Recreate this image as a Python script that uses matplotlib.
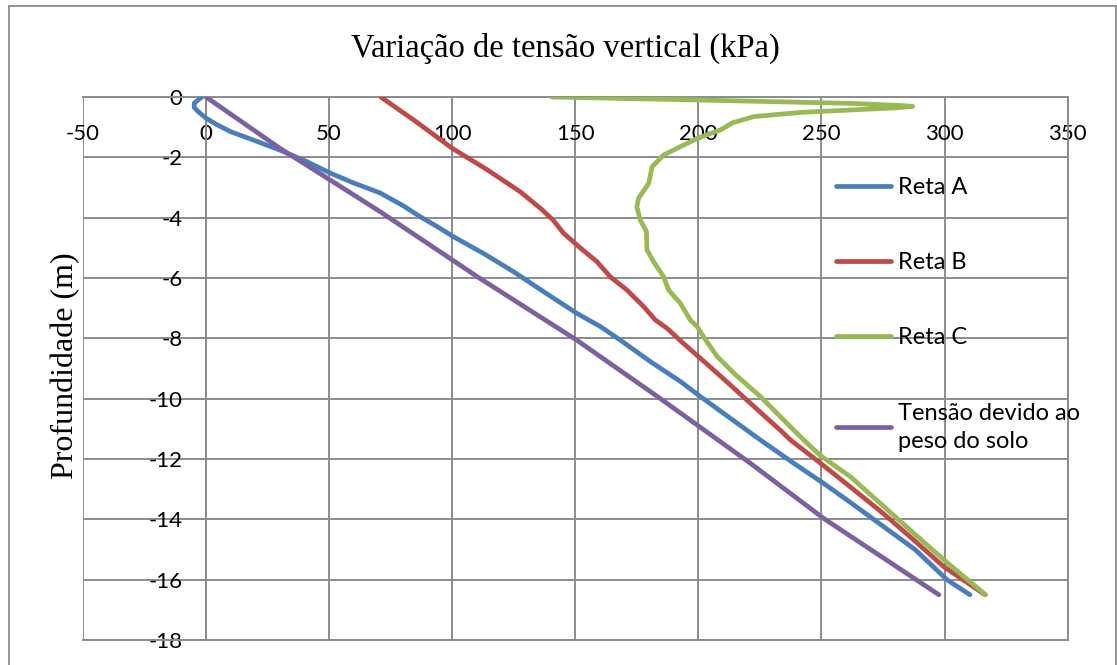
import matplotlib
matplotlib.use("Agg")
import matplotlib.pyplot as plt
from matplotlib.patches import Rectangle

plt.rcParams['axes.unicode_minus'] = False

# profundidade (m) e tensao (kPa) de cada curva
prof_a = [0, -0.2, -0.35, -0.5, -0.7, -0.9, -1.15, -1.45, -1.76, -2.14, -2.52, -2.85, -3.18,
          -3.6, -3.97, -4.3, -4.63, -5.2, -5.79, -6.5, -7.17, -7.61, -8.06, -8.8, -9.43,
          -9.93, -10.65, -11.37, -12.1, -12.81, -13.36, -14.05, -15.0, -16.01, -16.5]
tensao_a = [-1.7, -4.8, -4.8, -3.0, 0, 4, 10, 20, 30, 40.9, 50.4, 60, 70.7,
            80, 87, 94, 100.5, 113, 124.9, 138, 150.6, 160.2, 168.3, 181, 192.7,
            200.8, 213, 225.2, 238, 250.9, 260.4, 272, 288, 301.1, 310.3]

prof_b = [0, -0.8, -1.7, -2.4, -3.14, -3.7, -4.08, -4.52, -5.0, -5.46, -5.96, -6.4,
          -6.95, -7.39, -7.67, -8.1, -8.66, -9.4, -10.15, -11.1, -11.37, -12.05, -12.93,
          -13.8, -14.65, -15.57, -16.5]
tensao_b = [71, 85, 100, 114, 127.6, 136, 141, 145.3, 152, 158.8, 164.2, 171,
            177.8, 182.5, 187.3, 193, 200.8, 211, 221.1, 234, 237.4, 248.2, 261.8,
            275, 287, 299.7, 316.5]

prof_c = [0, -0.1, -0.21, -0.28, -0.31, -0.36, -0.43, -0.51, -0.65, -0.85, -1.09, -1.37,
          -1.92, -2.31, -2.86, -3.36, -3.64, -4.08, -4.46, -5.07, -5.46, -5.96, -6.4,
          -6.84, -7.39, -7.61, -8.0, -8.6, -9.2, -9.93, -10.9, -11.37, -11.89, -12.59,
          -13.55, -14.5, -15.5, -16.5]
tensao_c = [140.5, 200.8, 261.8, 282, 287, 280, 261.8, 241.5, 222.5, 214, 209, 199.5,
            185.9, 181.2, 179.8, 175.7, 175.0, 176.4, 178.9, 179.1, 181.8, 185.9, 187.9,
            192.7, 196.7, 199.5, 202.5, 207.6, 215, 225.2, 237, 242.8, 249.6, 261.8,
            275, 288, 302, 316.7]

prof_solo = [0, -1.7, -2.75, -3.8, -6.0, -8.06, -10.0, -12.14, -13.97, -16.5]
tensao_solo = [0, 30, 50.4, 70.7, 111, 150.6, 184.6, 221.1, 250.9, 297.7]

series = [
    (tensao_a, prof_a, "Reta A", "#4A7EBB"),
    (tensao_b, prof_b, "Reta B", "#BE4B48"),
    (tensao_c, prof_c, "Reta C", "#98B954"),
    (tensao_solo, prof_solo, "Tensão devido ao\npeso do solo", "#7D60A0"),
]

x_ticks = [-50, 0, 50, 100, 150, 200, 250, 300, 350]
y_ticks = [0, -2, -4, -6, -8, -10, -12, -14, -16, -18]

grid_gray = "#8c8c8c"
tick_font = "Lato"
serif_font = "Liberation Serif"

fig = plt.figure(figsize=(11.17, 6.65), dpi=100)
ax = fig.add_axes([0.0743, 0.0376, 0.8815, 0.8165])

for x, y, label, color in series:
    ax.plot(x, y, color=color, lw=3.4, label=label,
            solid_capstyle="round", solid_joinstyle="round", zorder=3)

# eixo vertical cruzando em x = 0, rotulos de x logo abaixo da linha y = 0
ax.spines["left"].set_position(("data", 0))
for side in ["left", "right", "top", "bottom"]:
    ax.spines[side].set_color(grid_gray)
    ax.spines[side].set_linewidth(1.4)

ax.set_xlim(-50, 350)
ax.set_ylim(-18, 0)
ax.set_xticks(x_ticks)
ax.set_yticks(y_ticks)
ax.set_xticklabels([str(v) for v in x_ticks])
ax.set_yticklabels([str(v) for v in y_ticks])
ax.grid(True, color=grid_gray, lw=1.4, zorder=1)
ax.set_axisbelow(True)

ax.xaxis.set_ticks_position("top")
ax.tick_params(axis="x", length=0, pad=-34, labelcolor="black",
               labelsize=16, labelfontfamily=tick_font)
ax.tick_params(axis="y", length=6, width=1.4, color=grid_gray, pad=11,
               labelcolor="black", labelsize=16, labelfontfamily=tick_font)

ax.set_title("Variação de tensão vertical (kPa)", fontfamily=serif_font,
             fontsize=23.5, pad=29, x=0.49)
fig.text(0.059, 0.4496, "Profundidade (m)", rotation=90, fontfamily=serif_font,
         fontsize=23, ha="center", va="center")

leg = ax.legend(loc="upper left", bbox_to_anchor=(0.765, 0.853), frameon=False,
                borderpad=0, borderaxespad=0, handlelength=2.3, handletextpad=0.3,
                labelspacing=2.3, prop={"family": tick_font, "size": 17})
for txt in leg.get_texts():
    txt.set_linespacing(1.4)

fig.patches.append(Rectangle((9 / 1117, -0.02), 1107 / 1117, 1 - 6 / 665 + 0.02,
                             transform=fig.transFigure, fill=False,
                             edgecolor=grid_gray, lw=1.3))

fig.savefig("out.png", dpi=100)
